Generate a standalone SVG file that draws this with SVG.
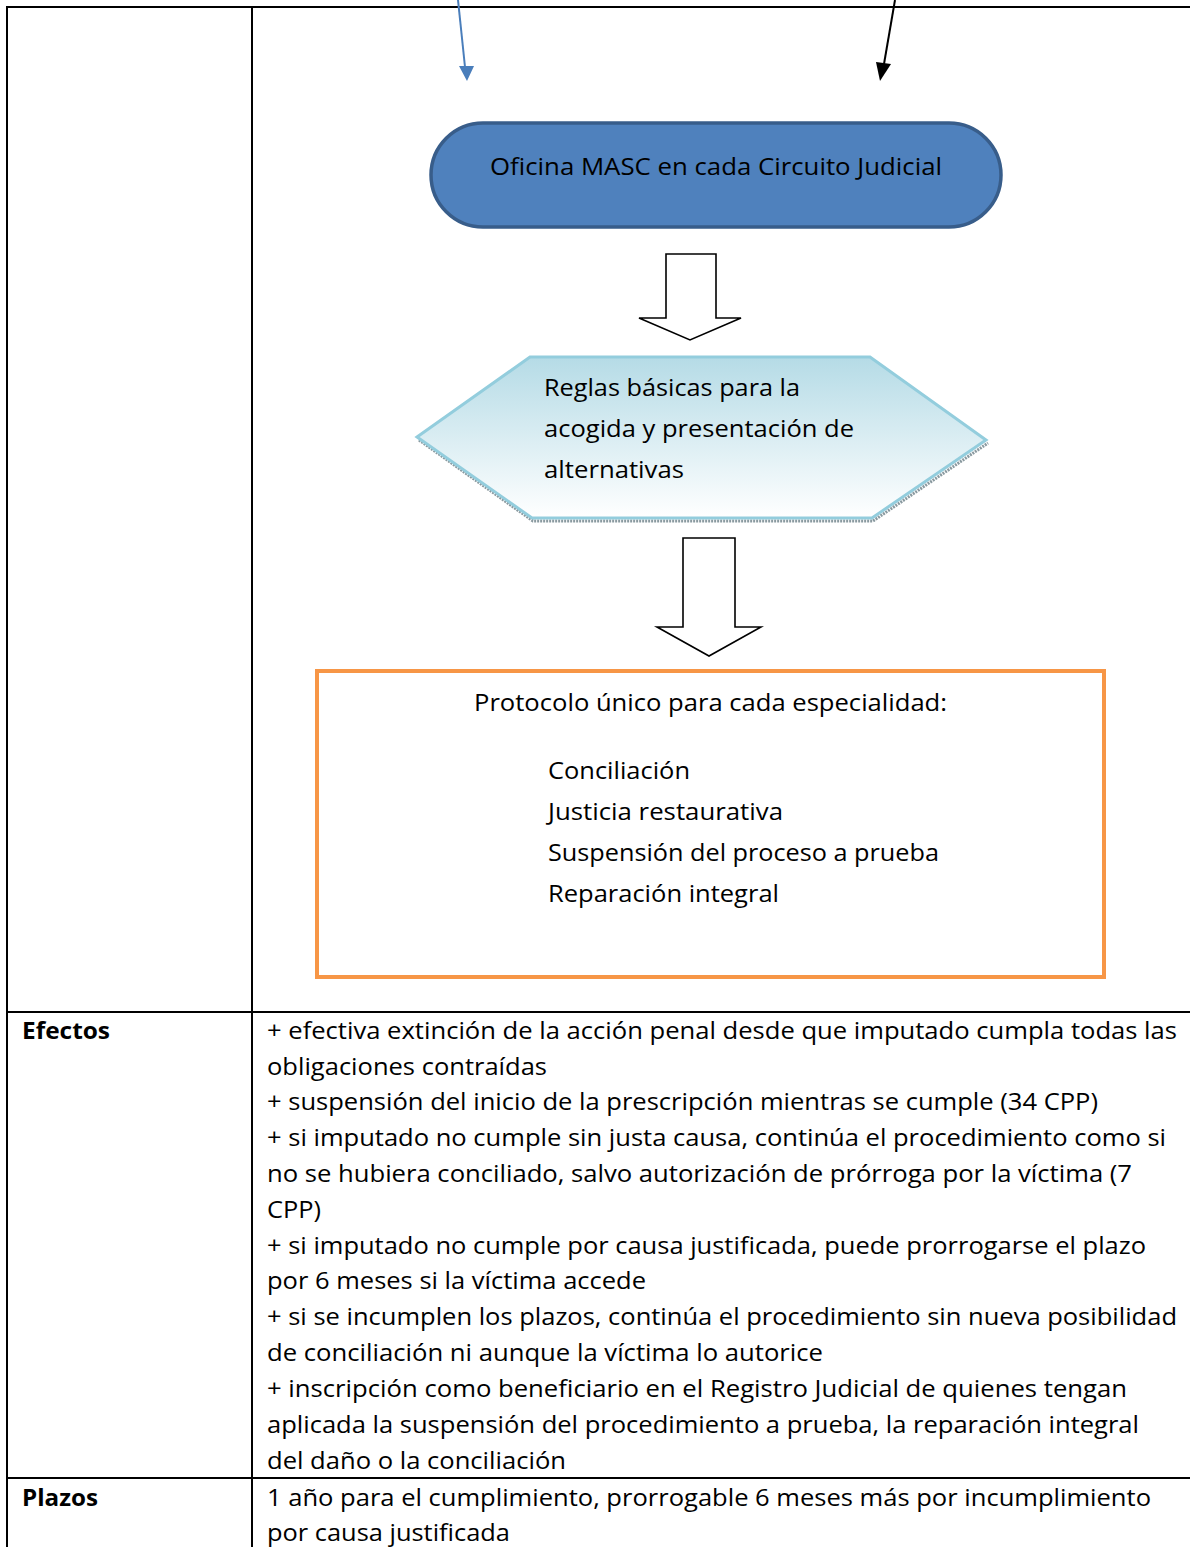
<svg xmlns="http://www.w3.org/2000/svg" width="1190" height="1547" viewBox="0 0 1190 1547">
  <style>
    .t { font-family: "Open Sans", "Liberation Sans", sans-serif; font-size: 23px; fill: #000; }
    .b { font-weight: bold; }
    .grid { stroke: #000; stroke-width: 2; fill: none; }
    .block { fill: #fff; stroke: #000; stroke-width: 1.6; stroke-linejoin: miter; }
  </style>
  <defs>
    <linearGradient id="hexFill" x1="0" y1="0" x2="0" y2="1">
      <stop offset="0" stop-color="#b5dbe6"/>
      <stop offset="1" stop-color="#ffffff"/>
    </linearGradient>
  </defs>

  <!-- table grid -->
  <g id="table">
    <line class="grid" x1="7" y1="7" x2="1190" y2="7"/>
    <line class="grid" x1="7" y1="6" x2="7" y2="1547"/>
    <line class="grid" x1="252" y1="6" x2="252" y2="1547"/>
    <line class="grid" x1="7" y1="1012" x2="1190" y2="1012"/>
    <line class="grid" x1="7" y1="1478" x2="1190" y2="1478"/>
  </g>

  <!-- connectors -->
  <g id="connectors">
    <line x1="458" y1="0" x2="465" y2="67" stroke="#4a7ebb" stroke-width="2"/>
    <polygon points="459,66 474,66 467,81" fill="#4a7ebb"/>
    <line x1="895" y1="0" x2="884" y2="64" stroke="#000" stroke-width="2"/>
    <polygon points="876,62 891,64 880,81" fill="#000"/>
    <path id="arrow1" class="block" d="M666,254 H716 V318 H741 L690,340 L639,318 H666 Z"/>
    <path id="arrow2" class="block" d="M683,538 H735 V627 H761 L709,656 L657,627 H683 Z"/>
  </g>

  <!-- start terminator -->
  <g id="oficina">
    <rect x="431" y="123" width="570" height="104" rx="52" ry="52" fill="#4f81bd" stroke="#385d8a" stroke-width="3.5"/>
    <text class="t" x="490" y="175" textLength="452" lengthAdjust="spacingAndGlyphs">Oficina MASC en cada Circuito Judicial</text>
  </g>

  <!-- preparation hexagon -->
  <g id="reglas">
    <polyline points="419,440 533,521 873,521 988,443" fill="none" stroke="#8a9aa0" stroke-width="3" stroke-dasharray="2 1"/>
    <polygon points="417,437 530,357 870,357 986,440 872,518 532,518" fill="url(#hexFill)" stroke="#93cddd" stroke-width="3"/>
    <text class="t" x="544" y="396" textLength="256" lengthAdjust="spacingAndGlyphs">Reglas básicas para la</text>
    <text class="t" x="544" y="437" textLength="310" lengthAdjust="spacingAndGlyphs">acogida y presentación de</text>
    <text class="t" x="544" y="478" textLength="140" lengthAdjust="spacingAndGlyphs">alternativas</text>
  </g>

  <!-- protocol box -->
  <g id="protocolo">
    <rect x="317" y="671" width="787" height="306" fill="#fff" stroke="#f79646" stroke-width="4"/>
    <text class="t" x="474" y="711" textLength="473" lengthAdjust="spacingAndGlyphs">Protocolo único para cada especialidad:</text>
    <text class="t" x="548" y="779" textLength="142" lengthAdjust="spacingAndGlyphs">Conciliación</text>
    <text class="t" x="548" y="820" textLength="235" lengthAdjust="spacingAndGlyphs">Justicia restaurativa</text>
    <text class="t" x="548" y="861" textLength="391" lengthAdjust="spacingAndGlyphs">Suspensión del proceso a prueba</text>
    <text class="t" x="548" y="902" textLength="231" lengthAdjust="spacingAndGlyphs">Reparación integral</text>
  </g>

  <!-- effects row -->
  <g id="efectos">
    <text class="t b" x="22" y="1039" textLength="88" lengthAdjust="spacingAndGlyphs">Efectos</text>
    <text class="t" x="267" y="1039" textLength="910" lengthAdjust="spacingAndGlyphs">+ efectiva extinción de la acción penal desde que imputado cumpla todas las</text>
    <text class="t" x="267" y="1075" textLength="280" lengthAdjust="spacingAndGlyphs">obligaciones contraídas</text>
    <text class="t" x="267" y="1110" textLength="831" lengthAdjust="spacingAndGlyphs">+ suspensión del inicio de la prescripción mientras se cumple (34 CPP)</text>
    <text class="t" x="267" y="1146" textLength="899" lengthAdjust="spacingAndGlyphs">+ si imputado no cumple sin justa causa, continúa el procedimiento como si</text>
    <text class="t" x="267" y="1182" textLength="865" lengthAdjust="spacingAndGlyphs">no se hubiera conciliado, salvo autorización de prórroga por la víctima (7</text>
    <text class="t" x="267" y="1218" textLength="54" lengthAdjust="spacingAndGlyphs">CPP)</text>
    <text class="t" x="267" y="1254" textLength="879" lengthAdjust="spacingAndGlyphs">+ si imputado no cumple por causa justificada, puede prorrogarse el plazo</text>
    <text class="t" x="267" y="1289" textLength="379" lengthAdjust="spacingAndGlyphs">por 6 meses si la víctima accede</text>
    <text class="t" x="267" y="1325" textLength="910" lengthAdjust="spacingAndGlyphs">+ si se incumplen los plazos, continúa el procedimiento sin nueva posibilidad</text>
    <text class="t" x="267" y="1361" textLength="556" lengthAdjust="spacingAndGlyphs">de conciliación ni aunque la víctima lo autorice</text>
    <text class="t" x="267" y="1397" textLength="860" lengthAdjust="spacingAndGlyphs">+ inscripción como beneficiario en el Registro Judicial de quienes tengan</text>
    <text class="t" x="267" y="1433" textLength="872" lengthAdjust="spacingAndGlyphs">aplicada la suspensión del procedimiento a prueba, la reparación integral</text>
    <text class="t" x="267" y="1469" textLength="299" lengthAdjust="spacingAndGlyphs">del daño o la conciliación</text>
  </g>

  <!-- deadlines row -->
  <g id="plazos">
    <text class="t b" x="22" y="1506" textLength="76" lengthAdjust="spacingAndGlyphs">Plazos</text>
    <text class="t" x="267" y="1506" textLength="884" lengthAdjust="spacingAndGlyphs">1 año para el cumplimiento, prorrogable 6 meses más por incumplimiento</text>
    <text class="t" x="267" y="1541" textLength="243" lengthAdjust="spacingAndGlyphs">por causa justificada</text>
  </g>
</svg>
